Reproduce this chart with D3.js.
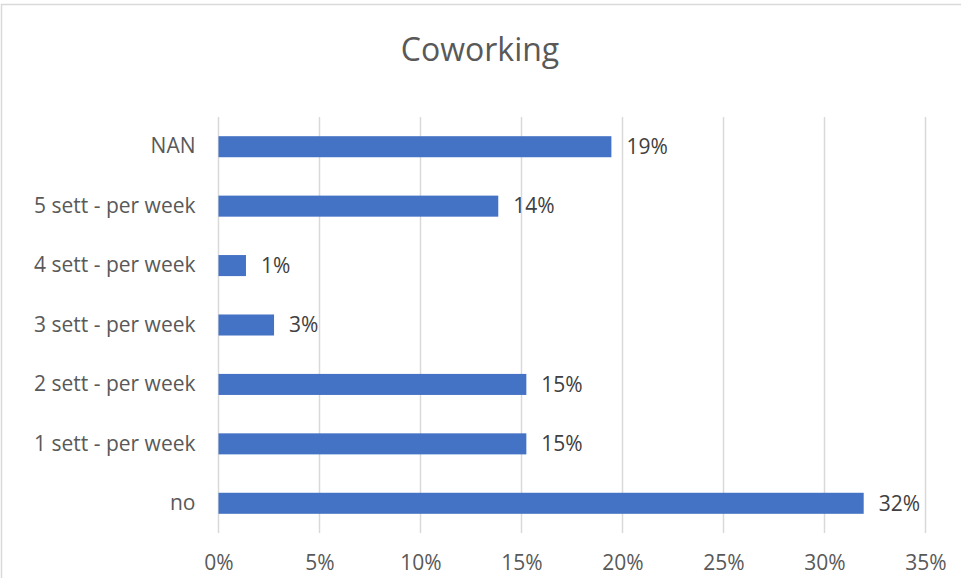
<!DOCTYPE html>
<html>
<head>
<meta charset="utf-8">
<script src="https://cdn.jsdelivr.net/npm/d3@7"></script>
<style>
  body { margin: 0; background: #fff; }
  svg { display: block; font-family: "Open Sans", "Liberation Sans", sans-serif; }
</style>
</head>
<body>
<div id="chart"></div>
<script>
// categories top to bottom, as shown
const categories = ["NAN", "5 sett - per week", "4 sett - per week", "3 sett - per week",
                    "2 sett - per week", "1 sett - per week", "no"];
const shares = [0.1945, 0.1385, 0.0136, 0.0275, 0.1524, 0.1524, 0.3194];
const tickValues = [0, 0.05, 0.10, 0.15, 0.20, 0.25, 0.30, 0.35];
const title = "Coworking";

const W = 961, H = 578;
const svg = d3.select("#chart").append("svg")
    .attr("width", W)
    .attr("height", H);

// chart border
svg.append("rect")
    .attr("x", 1.5).attr("y", 4.5)
    .attr("width", W + 10).attr("height", H + 10)
    .attr("fill", "none")
    .attr("stroke", "#d9d9d9")
    .attr("stroke-width", 1.5);

const x = d3.scaleLinear()
    .domain([0, 0.35])
    .range([218.5, 925.5]);

const y = d3.scaleBand()
    .domain(categories)
    .range([117, 533])
    .paddingInner(0.646)
    .paddingOuter(0.323);

// gridlines
svg.append("g")
    .selectAll("line")
    .data(tickValues)
    .join("line")
    .attr("x1", d => x(d)).attr("x2", d => x(d))
    .attr("y1", 117).attr("y2", 533)
    .attr("stroke", "#d9d9d9")
    .attr("stroke-width", 1.5);

// x axis labels
const xAxis = svg.append("g")
    .attr("transform", "translate(0,533)")
    .call(d3.axisBottom(x).tickValues(tickValues).tickFormat(d3.format(".0%")).tickSize(0).tickPadding(22));
xAxis.select(".domain").remove();
xAxis.selectAll("text")
    .attr("fill", "#595959")
    .attr("font-size", "21px")
    .attr("font-family", "\"Open Sans\", sans-serif");

// y axis labels
const yAxis = svg.append("g")
    .attr("transform", `translate(${x(0)},0)`)
    .call(d3.axisLeft(y).tickSize(0).tickPadding(23));
yAxis.select(".domain").remove();
yAxis.selectAll("text")
    .attr("fill", "#595959")
    .attr("font-size", "21px")
    .attr("font-family", "\"Open Sans\", sans-serif");

// bars
svg.append("g")
    .selectAll("rect")
    .data(categories)
    .join("rect")
    .attr("x", x(0))
    .attr("y", d => y(d))
    .attr("width", (d, i) => x(shares[i]) - x(0))
    .attr("height", y.bandwidth())
    .attr("fill", "#4472c4");

// data labels
svg.append("g")
    .selectAll("text")
    .data(categories)
    .join("text")
    .attr("x", (d, i) => x(shares[i]) + 15)
    .attr("y", d => y(d) + y.bandwidth() / 2)
    .attr("dy", "0.35em")
    .attr("fill", "#404040")
    .attr("font-size", "21px")
    .text((d, i) => Math.round(shares[i] * 100) + "%");

// title
svg.append("text")
    .attr("x", 480)
    .attr("y", 61)
    .attr("text-anchor", "middle")
    .attr("fill", "#595959")
    .attr("font-size", "32px")
    .text(title);
</script>
</body>
</html>
